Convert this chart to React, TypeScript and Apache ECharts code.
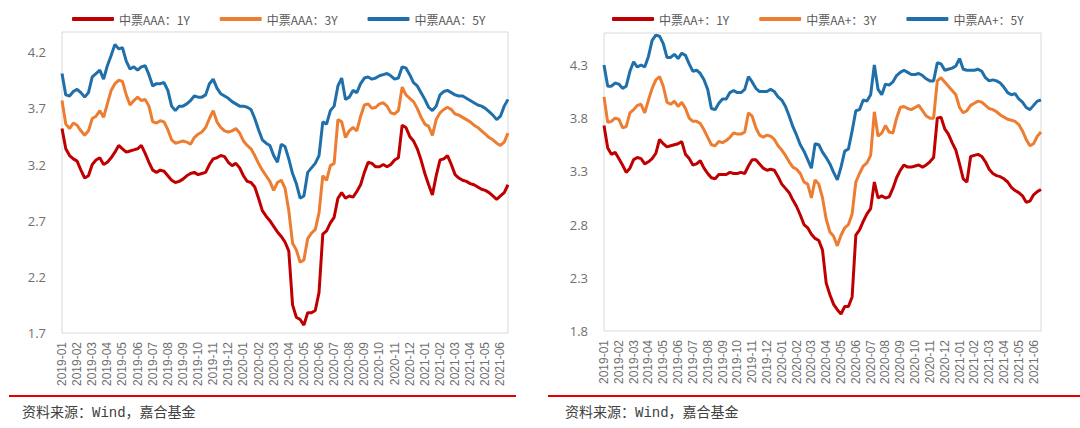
import React, { useEffect, useRef } from "react";
import * as echarts from "echarts";

// Month tick labels (x axis); each month holds 4 sampled points, June 2021 only 3.
const months = [
  "2019-01", "2019-02", "2019-03", "2019-04", "2019-05", "2019-06",
  "2019-07", "2019-08", "2019-09", "2019-10", "2019-11", "2019-12",
  "2020-01", "2020-02", "2020-03", "2020-04", "2020-05", "2020-06",
  "2020-07", "2020-08", "2020-09", "2020-10", "2020-11", "2020-12",
  "2021-01", "2021-02", "2021-03", "2021-04", "2021-05", "2021-06",
];

const leftNames = ["中票AAA：1Y", "中票AAA：3Y", "中票AAA：5Y"];
const rightNames = ["中票AA+：1Y", "中票AA+：3Y", "中票AA+：5Y"];
const leftTicks = [1.7, 2.2, 2.7, 3.2, 3.7, 4.2];
const rightTicks = [1.8, 2.3, 2.8, 3.3, 3.8, 4.3];
const sourceText = "资料来源：Wind，嘉合基金";

// 中票AAA：1Y
const aaa1Y = [
  3.52, 3.34, 3.28, 3.25, 3.23, 3.15, 3.08, 3.10, 3.20, 3.24,
  3.26, 3.20, 3.22, 3.26, 3.31, 3.37, 3.34, 3.31, 3.32, 3.33,
  3.34, 3.37, 3.30, 3.22, 3.15, 3.13, 3.15, 3.14, 3.10, 3.06,
  3.04, 3.05, 3.07, 3.10, 3.12, 3.13, 3.11, 3.12, 3.13, 3.20,
  3.25, 3.26, 3.28, 3.27, 3.22, 3.19, 3.21, 3.17, 3.10, 3.05,
  3.04, 3.00, 2.90, 2.79, 2.74, 2.70, 2.65, 2.60, 2.56, 2.51,
  2.43, 1.95, 1.84, 1.82, 1.77, 1.88, 1.88, 1.90, 2.06, 2.58,
  2.61, 2.68, 2.73, 2.90, 2.95, 2.90, 2.92, 2.91, 2.96, 3.02,
  3.13, 3.22, 3.21, 3.18, 3.18, 3.20, 3.18, 3.20, 3.24, 3.26,
  3.55, 3.53, 3.45, 3.41, 3.34, 3.24, 3.12, 3.02, 2.93, 3.10,
  3.24, 3.25, 3.28, 3.20, 3.11, 3.08, 3.06, 3.05, 3.03, 3.02,
  3.00, 2.98, 2.97, 2.95, 2.92, 2.89, 2.92, 2.95, 3.02,
];
// 中票AAA：3Y
const aaa3Y = [
  3.77, 3.56, 3.52, 3.57, 3.55, 3.50, 3.46, 3.50, 3.61, 3.63,
  3.68, 3.62, 3.74, 3.86, 3.92, 3.95, 3.94, 3.82, 3.73, 3.77,
  3.80, 3.77, 3.78, 3.72, 3.58, 3.57, 3.59, 3.58, 3.51, 3.42,
  3.39, 3.40, 3.41, 3.40, 3.38, 3.44, 3.47, 3.49, 3.53, 3.61,
  3.68, 3.58, 3.53, 3.50, 3.49, 3.50, 3.52, 3.48, 3.41, 3.37,
  3.34, 3.28, 3.21, 3.15, 3.10, 3.05, 2.97, 3.04, 3.06, 2.99,
  2.79, 2.50, 2.44, 2.33, 2.35, 2.54, 2.59, 2.62, 2.77, 3.10,
  3.06, 3.19, 3.21, 3.60, 3.58, 3.44, 3.50, 3.53, 3.50, 3.63,
  3.73, 3.74, 3.70, 3.71, 3.74, 3.75, 3.72, 3.66, 3.65, 3.68,
  3.89, 3.82, 3.79, 3.76, 3.70, 3.62, 3.56, 3.54, 3.46, 3.60,
  3.66, 3.69, 3.71, 3.69, 3.65, 3.64, 3.62, 3.60, 3.58, 3.55,
  3.53, 3.50, 3.47, 3.44, 3.42, 3.39, 3.37, 3.40, 3.48,
];
// 中票AAA：5Y
const aaa5Y = [
  4.01, 3.82, 3.81, 3.85, 3.87, 3.84, 3.80, 3.84, 3.98, 4.01,
  4.04, 3.96, 4.08, 4.17, 4.27, 4.23, 4.24, 4.12, 4.05, 4.07,
  4.04, 4.07, 4.08, 4.00, 3.90, 3.92, 3.92, 3.93, 3.86, 3.72,
  3.68, 3.72, 3.72, 3.74, 3.77, 3.81, 3.80, 3.80, 3.82, 3.92,
  3.96, 3.88, 3.83, 3.81, 3.79, 3.76, 3.74, 3.72, 3.72, 3.71,
  3.69, 3.61, 3.51, 3.42, 3.39, 3.37, 3.28, 3.22, 3.38, 3.36,
  3.25, 3.12, 3.03, 2.90, 2.92, 3.13, 3.17, 3.21, 3.28, 3.58,
  3.56, 3.68, 3.72, 3.90, 3.97, 3.78, 3.80, 3.86, 3.84, 3.92,
  3.97, 3.98, 3.96, 3.97, 3.99, 4.00, 4.01, 3.99, 3.96, 3.97,
  4.07, 4.06, 4.00, 3.93, 3.90, 3.84, 3.78, 3.71, 3.68, 3.72,
  3.82, 3.85, 3.86, 3.84, 3.82, 3.81, 3.81, 3.79, 3.77, 3.75,
  3.73, 3.72, 3.70, 3.67, 3.64, 3.60, 3.63, 3.72, 3.78,
];
// 中票AA+：1Y
const aap1Y = [
  3.73, 3.52, 3.46, 3.48, 3.42, 3.36, 3.29, 3.33, 3.41, 3.43,
  3.42, 3.37, 3.39, 3.42, 3.47, 3.60, 3.56, 3.53, 3.54, 3.55,
  3.56, 3.58, 3.46, 3.42, 3.36, 3.37, 3.40, 3.33, 3.28, 3.24,
  3.23, 3.27, 3.27, 3.27, 3.29, 3.28, 3.28, 3.29, 3.28, 3.35,
  3.41, 3.41, 3.37, 3.33, 3.31, 3.32, 3.31, 3.25, 3.18, 3.14,
  3.10, 3.03, 2.97, 2.89, 2.80, 2.77, 2.71, 2.67, 2.65, 2.56,
  2.25, 2.14, 2.05, 2.00, 1.96, 2.03, 2.03, 2.12, 2.70, 2.75,
  2.83, 2.90, 2.95, 3.20, 3.05, 3.07, 3.05, 3.06, 3.14, 3.24,
  3.31, 3.36, 3.34, 3.34, 3.35, 3.36, 3.34, 3.36, 3.39, 3.43,
  3.80, 3.81, 3.70, 3.65, 3.57, 3.50, 3.37, 3.23, 3.20, 3.44,
  3.45, 3.46, 3.44, 3.39, 3.32, 3.28, 3.26, 3.25, 3.23, 3.20,
  3.15, 3.12, 3.10, 3.07, 3.01, 3.02, 3.08, 3.11, 3.13,
];
// 中票AA+：3Y
const aap3Y = [
  4.00, 3.76, 3.77, 3.80, 3.79, 3.71, 3.72, 3.85, 3.88, 3.92,
  3.93, 3.85, 3.97, 4.08, 4.16, 4.19, 4.10, 3.95, 3.93, 3.96,
  3.91, 3.95, 3.89, 3.80, 3.77, 3.77, 3.75, 3.69, 3.62, 3.55,
  3.54, 3.58, 3.57, 3.59, 3.62, 3.66, 3.65, 3.65, 3.67, 3.85,
  3.82, 3.71, 3.64, 3.62, 3.64, 3.63, 3.60, 3.54, 3.50, 3.45,
  3.39, 3.34, 3.32, 3.28, 3.20, 3.18, 3.05, 3.22, 3.18, 3.05,
  2.85, 2.73, 2.69, 2.60, 2.70, 2.77, 2.80, 2.90, 3.20, 3.28,
  3.35, 3.38, 3.45, 3.86, 3.63, 3.66, 3.73, 3.67, 3.66, 3.80,
  3.90, 3.91, 3.89, 3.88, 3.90, 3.92, 3.87, 3.82, 3.80, 3.80,
  4.15, 4.18, 4.14, 4.10, 4.06, 4.02, 3.90, 3.85, 3.87, 3.92,
  3.94, 3.96, 3.95, 3.92, 3.89, 3.88, 3.86, 3.83, 3.81, 3.79,
  3.78, 3.77, 3.74, 3.68, 3.60, 3.54, 3.56, 3.63, 3.67,
];
// 中票AA+：5Y
const aap5Y = [
  4.30, 4.10, 4.10, 4.13, 4.12, 4.08, 4.10, 4.24, 4.33, 4.28,
  4.30, 4.28, 4.38, 4.53, 4.58, 4.57, 4.50, 4.37, 4.37, 4.40,
  4.36, 4.41, 4.39, 4.31, 4.24, 4.25, 4.22, 4.16, 4.07, 3.89,
  3.88, 3.94, 3.98, 3.98, 4.04, 4.06, 4.04, 4.04, 4.07, 4.19,
  4.14, 4.08, 4.05, 4.05, 4.05, 4.07, 4.05, 4.00, 3.97, 3.91,
  3.82, 3.72, 3.64, 3.55, 3.49, 3.41, 3.33, 3.56, 3.55, 3.48,
  3.43, 3.37, 3.29, 3.22, 3.34, 3.49, 3.51, 3.68, 3.87, 3.88,
  3.97, 3.96, 4.02, 4.30, 4.07, 4.02, 4.12, 4.11, 4.14, 4.20,
  4.23, 4.25, 4.23, 4.21, 4.21, 4.22, 4.20, 4.17, 4.15, 4.15,
  4.32, 4.31, 4.25, 4.26, 4.27, 4.29, 4.36, 4.26, 4.25, 4.25,
  4.25, 4.26, 4.24, 4.18, 4.15, 4.16, 4.15, 4.13, 4.09, 4.04,
  4.02, 4.03, 3.98, 3.95, 3.90, 3.88, 3.92, 3.96, 3.97,
];

const COLORS = ["#C00000", "#ED7D31", "#1F6FAB"];
const LABEL_GRAY = "#707070";
const TEXT_GRAY = "#595959";

const categories = aaa1Y.map((_, i) => `${months[Math.floor(i / 4)]}#${i % 4}`);

function makeYAxis(gridIndex: number, min: number, max: number, ticks: number[]) {
  return {
    type: "value",
    gridIndex,
    min,
    max,
    interval: 0.1,
    axisLine: { show: false },
    axisTick: { show: false },
    splitLine: { show: false },
    axisLabel: {
      margin: 16,
      color: LABEL_GRAY,
      fontSize: 13,
      fontFamily: "'Open Sans', sans-serif",
      formatter: (v: number) =>
        ticks.some((t) => Math.abs(t - v) < 1e-6) ? v.toFixed(1) : "",
    },
  };
}

function makeXAxis(gridIndex: number) {
  return {
    type: "category",
    gridIndex,
    data: categories,
    boundaryGap: false,
    axisLine: { show: false },
    axisTick: { show: false },
    splitLine: { show: false },
    axisLabel: {
      rotate: 90,
      margin: 9,
      color: LABEL_GRAY,
      fontSize: 12,
      fontFamily: "'Liberation Sans', Arial, sans-serif",
      interval: (_i: number, v: string) => v.endsWith("#0"),
      formatter: (v: string) => v.slice(0, 7),
    },
  };
}

function makeSeries(names: string[], data: number[][], axisIndex: number) {
  return names.map((name, k) => ({
    name,
    type: "line",
    xAxisIndex: axisIndex,
    yAxisIndex: axisIndex,
    data: data[k],
    showSymbol: false,
    symbol: "none",
    lineStyle: { width: 3, color: COLORS[k] },
    itemStyle: { color: COLORS[k] },
    emphasis: { disabled: true },
  }));
}

function makeLegend(names: string[], left: number) {
  return {
    data: names,
    left,
    top: 6,
    icon: "roundRect",
    itemWidth: 42,
    itemHeight: 4,
    itemGap: 30,
    textStyle: {
      color: TEXT_GRAY,
      fontSize: 12,
      fontFamily: "'Noto Sans CJK SC', sans-serif",
      lineHeight: 16,
    },
  };
}

export default function App() {
  const ref = useRef<HTMLDivElement>(null);

  useEffect(() => {
    if (!ref.current) return;
    const chart = echarts.init(ref.current, undefined, { renderer: "svg" });
    const option = {
      animation: false,
      backgroundColor: "#FFFFFF",
      legend: [makeLegend(leftNames, 67), makeLegend(rightNames, 607)],
      grid: [
        { left: 62, top: 32, width: 446, height: 301, show: true, borderColor: "#D9D9D9", borderWidth: 1, containLabel: false },
        { left: 604, top: 33, width: 437, height: 298, show: true, borderColor: "#D9D9D9", borderWidth: 1, containLabel: false },
      ],
      xAxis: [makeXAxis(0), makeXAxis(1)],
      yAxis: [makeYAxis(0, 1.7, 4.38, leftTicks), makeYAxis(1, 1.8, 4.6, rightTicks)],
      series: [
        ...makeSeries(leftNames, [aaa1Y, aaa3Y, aaa5Y], 0),
        ...makeSeries(rightNames, [aap1Y, aap3Y, aap5Y], 1),
      ],
      graphic: [
        { type: "line", shape: { x1: 9, y1: 396, x2: 516, y2: 396 }, style: { stroke: "#E50000", lineWidth: 2 } },
        { type: "line", shape: { x1: 548, y1: 396, x2: 1080, y2: 396 }, style: { stroke: "#E50000", lineWidth: 2 } },
        {
          type: "text", x: 22, y: 413,
          style: { text: sourceText, fill: "#404040", fontSize: 14, fontFamily: "'Liberation Mono', 'Noto Sans CJK SC', monospace", verticalAlign: "middle" },
        },
        {
          type: "text", x: 565, y: 413,
          style: { text: sourceText, fill: "#404040", fontSize: 14, fontFamily: "'Liberation Mono', 'Noto Sans CJK SC', monospace", verticalAlign: "middle" },
        },
      ],
    };
    chart.setOption(option as any);
    return () => chart.dispose();
  }, []);

  return (
    <div
      ref={ref}
      style={{ position: "fixed", left: 0, top: 0, width: 1080, height: 428, background: "#fff" }}
    />
  );
}
